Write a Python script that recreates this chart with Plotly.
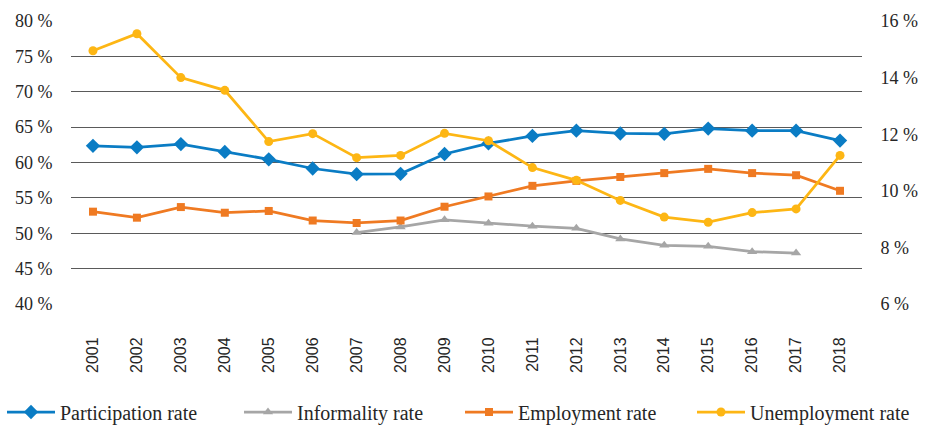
import plotly.graph_objects as go

years = [str(y) for y in range(2001, 2019)]

participation = [62.35, 62.15, 62.6, 61.5, 60.45, 59.15, 58.35, 58.4, 61.2, 62.7,
                 63.75, 64.5, 64.1, 64.05, 64.8, 64.5, 64.5, 63.1]
informality_years = years[6:17]
informality = [50.1, 50.9, 51.9, 51.4, 51.0, 50.7, 49.2, 48.3, 48.15, 47.4, 47.2]
employment = [53.05, 52.2, 53.7, 52.9, 53.15, 51.8, 51.45, 51.8, 53.75, 55.2,
              56.7, 57.4, 57.95, 58.5, 59.1, 58.5, 58.2, 56.0]
unemployment = [14.95, 15.55, 14.0, 13.55, 11.74, 12.02, 11.17, 11.25, 12.03, 11.77,
                10.82, 10.37, 9.66, 9.07, 8.89, 9.23, 9.36, 11.25]

BLUE = "#0a7cc4"
GRAY = "#a6a6a6"
ORANGE = "#ef7a22"
YELLOW = "#fdb614"
SERIF = "'Liberation Serif', 'DejaVu Serif', serif"
SANS = "'Liberation Sans', Arial, sans-serif"
W, H = 928, 428

fig = go.Figure()
fig.add_trace(go.Scatter(x=years, y=participation, name="Participation rate",
                         mode="lines+markers", line=dict(color=BLUE, width=2.75),
                         marker=dict(symbol="diamond", size=11, color=BLUE),
                         legend="legend"))
fig.add_trace(go.Scatter(x=informality_years, y=informality, name="Informality rate",
                         mode="lines+markers", line=dict(color=GRAY, width=2.75),
                         marker=dict(symbol="triangle-up", size=9, color=GRAY),
                         legend="legend2"))
fig.add_trace(go.Scatter(x=years, y=employment, name="Employment rate",
                         mode="lines+markers", line=dict(color=ORANGE, width=2.75),
                         marker=dict(symbol="square", size=8, color=ORANGE),
                         legend="legend3"))
fig.add_trace(go.Scatter(x=years, y=unemployment, name="Unemployment rate",
                         mode="lines+markers", line=dict(color=YELLOW, width=2.75),
                         marker=dict(symbol="circle", size=9, color=YELLOW),
                         yaxis="y2", legend="legend4"))


def legend_box(left_px):
    # one single-entry legend per series, laid out in a row under the axis
    return dict(orientation="h", xref="container", yref="container",
                x=left_px / W, y=1 - 412 / H, xanchor="left", yanchor="middle",
                font=dict(family=SERIF, size=20, color="#262626"),
                itemwidth=48, bgcolor="rgba(0,0,0,0)")


fig.update_layout(
    width=W, height=H,
    margin=dict(l=71, r=66, t=21, b=124, autoexpand=False),
    paper_bgcolor="white", plot_bgcolor="white",
    showlegend=True,
    legend=legend_box(2),
    legend2=legend_box(239),
    legend3=legend_box(460),
    legend4=legend_box(692),
    xaxis=dict(type="category", range=[-0.5, 17.5], tickangle=-90,
               tickfont=dict(family=SANS, size=16, color="#262626"),
               showgrid=False, showline=False, zeroline=False,
               ticks="outside", ticklen=26, tickcolor="rgba(0,0,0,0)"),
    yaxis=dict(range=[40, 80], dtick=5, ticksuffix=" %",
               tickfont=dict(family=SERIF, size=18, color="#262626"),
               showgrid=True, gridcolor="#5a5a5a", gridwidth=1,
               zeroline=False, showline=False,
               ticks="outside", ticklen=14, tickcolor="rgba(0,0,0,0)"),
    yaxis2=dict(range=[6, 16], dtick=2, ticksuffix=" %", overlaying="y", side="right",
                tickfont=dict(family=SERIF, size=18, color="#262626"),
                showgrid=False, zeroline=False, showline=False,
                ticks="outside", ticklen=14, tickcolor="rgba(0,0,0,0)"),
)

fig.write_html("out.html")
